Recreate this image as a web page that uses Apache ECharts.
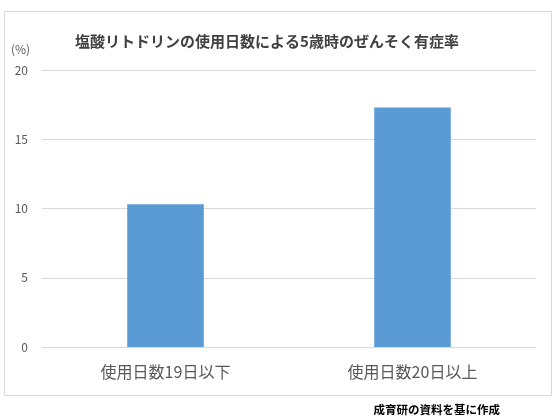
<!DOCTYPE html>
<html>
<head>
<meta charset="utf-8">
<script src="https://cdn.jsdelivr.net/npm/echarts@6/dist/echarts.min.js"></script>
<style>html,body{margin:0;padding:0;background:#fff;}#c{width:560px;height:420px;}</style>
</head>
<body>
<div id="c"></div>
<script>
const titleText = '塩酸リトドリンの使用日数による5歳時のぜんそく有症率';
const categories = ['使用日数19日以下', '使用日数20日以上'];
const values = [10.3, 17.3];
const yTicks = [0, 5, 10, 15, 20];
const unitLabel = '(%)';
const sourceText = '成育研の資料を基に作成';

const font = '"Noto Sans CJK JP", "Noto Sans", sans-serif';
const chart = echarts.init(document.getElementById('c'), null, {renderer: 'canvas'});
chart.setOption({
  animation: false,
  backgroundColor: '#fff',
  title: {
    text: titleText,
    left: 262, top: 29, textAlign: 'center',
    textStyle: {fontFamily: font, fontSize: 15, fontWeight: 'bold', color: '#404040'}
  },
  grid: {left: 42, right: 24, top: 70, bottom: 73},
  xAxis: {
    type: 'category',
    data: categories,
    axisLine: {lineStyle: {color: '#d9d9d9'}},
    axisTick: {show: false},
    axisLabel: {fontFamily: font, fontSize: 16, color: '#595959', margin: 17}
  },
  yAxis: {
    type: 'value',
    min: yTicks[0], max: yTicks[yTicks.length - 1], interval: yTicks[1] - yTicks[0],
    axisLine: {show: false},
    axisTick: {show: false},
    splitLine: {lineStyle: {color: '#d9d9d9'}},
    axisLabel: {fontFamily: font, fontSize: 12, color: '#595959', margin: 14}
  },
  series: [{
    type: 'bar',
    data: values,
    barWidth: '31%',
    itemStyle: {color: '#5B9BD5'}
  }],
  graphic: [
    {type: 'rect', shape: {x: 4.5, y: 11.5, width: 547, height: 384}, style: {fill: null, stroke: '#d9d9d9', lineWidth: 1}, z: -1},
    {type: 'text', left: 11, top: 43, style: {text: unitLabel, fontFamily: font, fontSize: 12, fill: '#595959'}},
    {type: 'text', right: 60, top: 404, style: {text: sourceText, fontFamily: font, fontSize: 11.5, fontWeight: 'bold', fill: '#000'}}
  ]
});
</script>
</body>
</html>
